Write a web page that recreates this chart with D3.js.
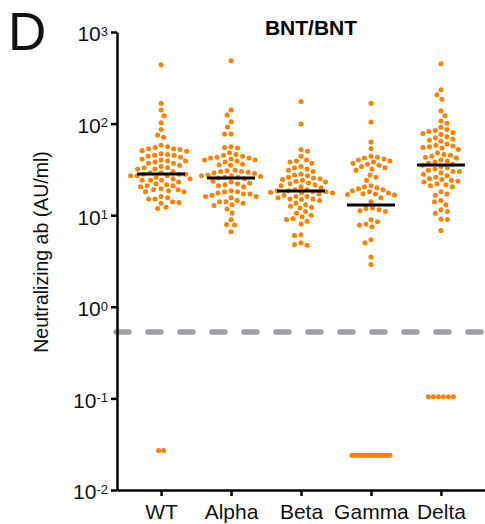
<!DOCTYPE html>
<html><head><meta charset="utf-8">
<script src="https://cdn.jsdelivr.net/npm/d3@7"></script>
<style>body{margin:0;background:#fff} svg{display:block} text{font-family:"Liberation Sans",Arial,Helvetica,sans-serif}</style>
</head><body><svg id="c" width="485" height="524"></svg>
<script>
const categories = ["WT","Alpha","Beta","Gamma","Delta"];
const wtValues = [440,167,141,122,102,86,75,71,
 58,56,55,53,53,52,51,50,
 47,46,45,45,44,43,
 41,40,39,39,38,37,37,
 35,34,33,33,32,32,
 30,29,29,28,28,28,27,27,27,
 26,25,25,24,24,24,23,
 22,21.5,21,21,20.5,
 19.5,19,19,18.5,18,18,
 16,15.5,15,15,
 14,13.8,13.5,
 12.2,11.8,
 0.027,0.027];
const alphaValues = [485,141,124,105,92,77,77,56,55,54,48,46,45,44,43,42,42,41,40,40,39,38,36,35.5,35,
 31,30.5,30,30,29.5,29,28.5,27.5,27,27,26.5,26,26,25.5,25,23.5,23,22.5,22,21.5,21,20.5,
 18.5,18,18,17.5,17,17,16.5,16,16,15.5,14.5,14,14,13.5,13,12.8,11.7,10.6,8.9,7.9,7.8,6.6];
const betaValues = [174,99,52,50,44,40,39,38,37,34,33,32,31,30,28,27.5,27,26,25.5,25,24.5,24,23.5,23,22.5,22,
 21.5,21,20.5,20,19,19,18.5,18.5,18,18,17.8,17.5,17.5,17,16.5,16,16,15.5,15,15,14.8,14.5,
 13.6,13,12.5,12.2,12,11,10.5,10,9.6,9.2,9,8.6,8,6.1,6,5,4.8,4.7];
const gammaValues = [167,104,63,53.5,44,43,42,41,40,39,38,37,36,35,34,33,32,31,27.5,26,24,
 21,20.5,20,19.5,19,18.5,18,17.5,17.2,17,16.8,16.6,15.5,14,12,11.8,11.5,11.2,11,
 8.9,8.5,8,7.8,7.5,5.4,5,3.5,2.9,
 0.024,0.024,0.024,0.024,0.024,0.024,0.024,0.024,0.024,0.024,
 0.024,0.024,0.024,0.024,0.024,0.024,0.024,0.024,0.024,0.024];
const deltaValues = [450,234,206,185,138,122,107,101,91,86,84,82,80,78,76,72,70,68,66,64,60,58,57,56,55,54,52,
 48,46,45,44,43,42,40,39,38,37,36,35,34,33,32,31,30,30,29,28,27,26,25,24.5,24,23.5,23,22,21.5,21,20.5,
 18,17,16.5,14.5,14,13,11.5,11,10.5,9.1,9,6.8,
 0.104,0.104,0.104,0.104,0.104,0.104];
const meanValues = [28.2,25.5,18.4,12.9,35.3];
const lodValue = 0.53;
const yTickValues = [0.01,0.1,1,10,100,1000];
const yTickExponents = ["-2","-1","0","1","2","3"];
const titleText = "BNT/BNT";
const yLabel = "Neutralizing ab (AU/ml)";
const panelLabel = "D";

const groups = [wtValues, alphaValues, betaValues, gammaValues, deltaValues];
const svg = d3.select("#c");
const x = d3.scalePoint().domain(categories).range([117,485]).padding(0.63);
const y = d3.scaleLog().domain([0.01,1000]).range([490,32]);
const r = 2.5;
const orange = "#ff8000";

function layout(vals, cx){
  const pts=[];
  const lows = vals.filter(v=>v<lodValue), highs = vals.filter(v=>v>=lodValue);
  d3.groups(lows, v=>v).forEach(([v,arr])=>{
    const n=arr.length, sp = n>1 ? Math.min(5, 38/(n-1)) : 0;
    arr.forEach((_,i)=>pts.push({x: cx+(i-(n-1)/2)*sp, y: y(v)}));
  });
  const placed=[];
  const sorted = highs.map(v=>({y:y(v)})).sort((a,b)=>a.y-b.y);
  const d = 2*r+1.3;
  sorted.forEach((p,j)=>{
    let best=0;
    outer: for(let k=0;k<400;k++){
      const s = j%2 ? 1 : -1;
      for(const c of [s*k*0.5, -s*k*0.5]){
        if(placed.every(q=>(q.dx-c)**2+(q.y-p.y)**2 >= d*d)){best=c;break outer;}
      }
    }
    p.dx=best; placed.push(p);
  });
  placed.forEach(p=>pts.push({x:cx+p.dx, y:p.y}));
  return pts;
}

// LOD dashed line
svg.append("line").attr("x1",116).attr("x2",485).attr("y1",y(lodValue)).attr("y2",y(lodValue))
  .attr("stroke","#a0a0a4").attr("stroke-width",5.5).attr("stroke-dasharray","13,19").attr("stroke-linecap","round");

// axes
const yAxis = svg.append("g").attr("transform","translate(117,0)")
  .call(d3.axisLeft(y).tickValues(yTickValues).tickSize(6).tickSizeOuter(0).tickPadding(3).tickFormat(()=>""));
yAxis.selectAll(".tick text").each(function(d,i){
  const t=d3.select(this); t.text(null).attr("dy","0.42em").style("font-size","21px").attr("fill","#111");
  t.append("tspan").text("10");
  t.append("tspan").attr("dy","-0.42em").style("font-size","13px").text(yTickExponents[i]);
});
const xAxis = svg.append("g").attr("transform","translate(0,490)")
  .call(d3.axisBottom(x).tickSize(6).tickSizeOuter(0).tickPadding(8));
xAxis.selectAll(".tick text").style("font-size","21px").attr("fill","#111");
svg.selectAll(".domain, .tick line").attr("stroke","#000").attr("stroke-width",2.5);

// dots
groups.forEach((vals,gi)=>{
  const pts = layout(vals, x(categories[gi]));
  svg.append("g").selectAll("circle").data(pts).join("circle")
    .attr("cx",d=>d.x).attr("cy",d=>d.y).attr("r",r).attr("fill",orange);
});

// mean lines
svg.append("g").selectAll("line").data(meanValues).join("line")
  .attr("x1",(d,i)=>x(categories[i])-24).attr("x2",(d,i)=>x(categories[i])+24)
  .attr("y1",d=>y(d)).attr("y2",d=>y(d)).attr("stroke","#000").attr("stroke-width",3);

// texts
svg.append("text").attr("x",311).attr("y",35).attr("text-anchor","middle")
  .style("font-size","21px").style("font-weight","bold").text(titleText);
svg.append("text").attr("transform","translate(48,252) rotate(-90)").attr("text-anchor","middle")
  .style("font-size","19.5px").attr("fill","#111").text(yLabel);
svg.append("text").attr("x",8).attr("y",50).style("font-size","53px").attr("fill","#111").text(panelLabel);
</script></body></html>
